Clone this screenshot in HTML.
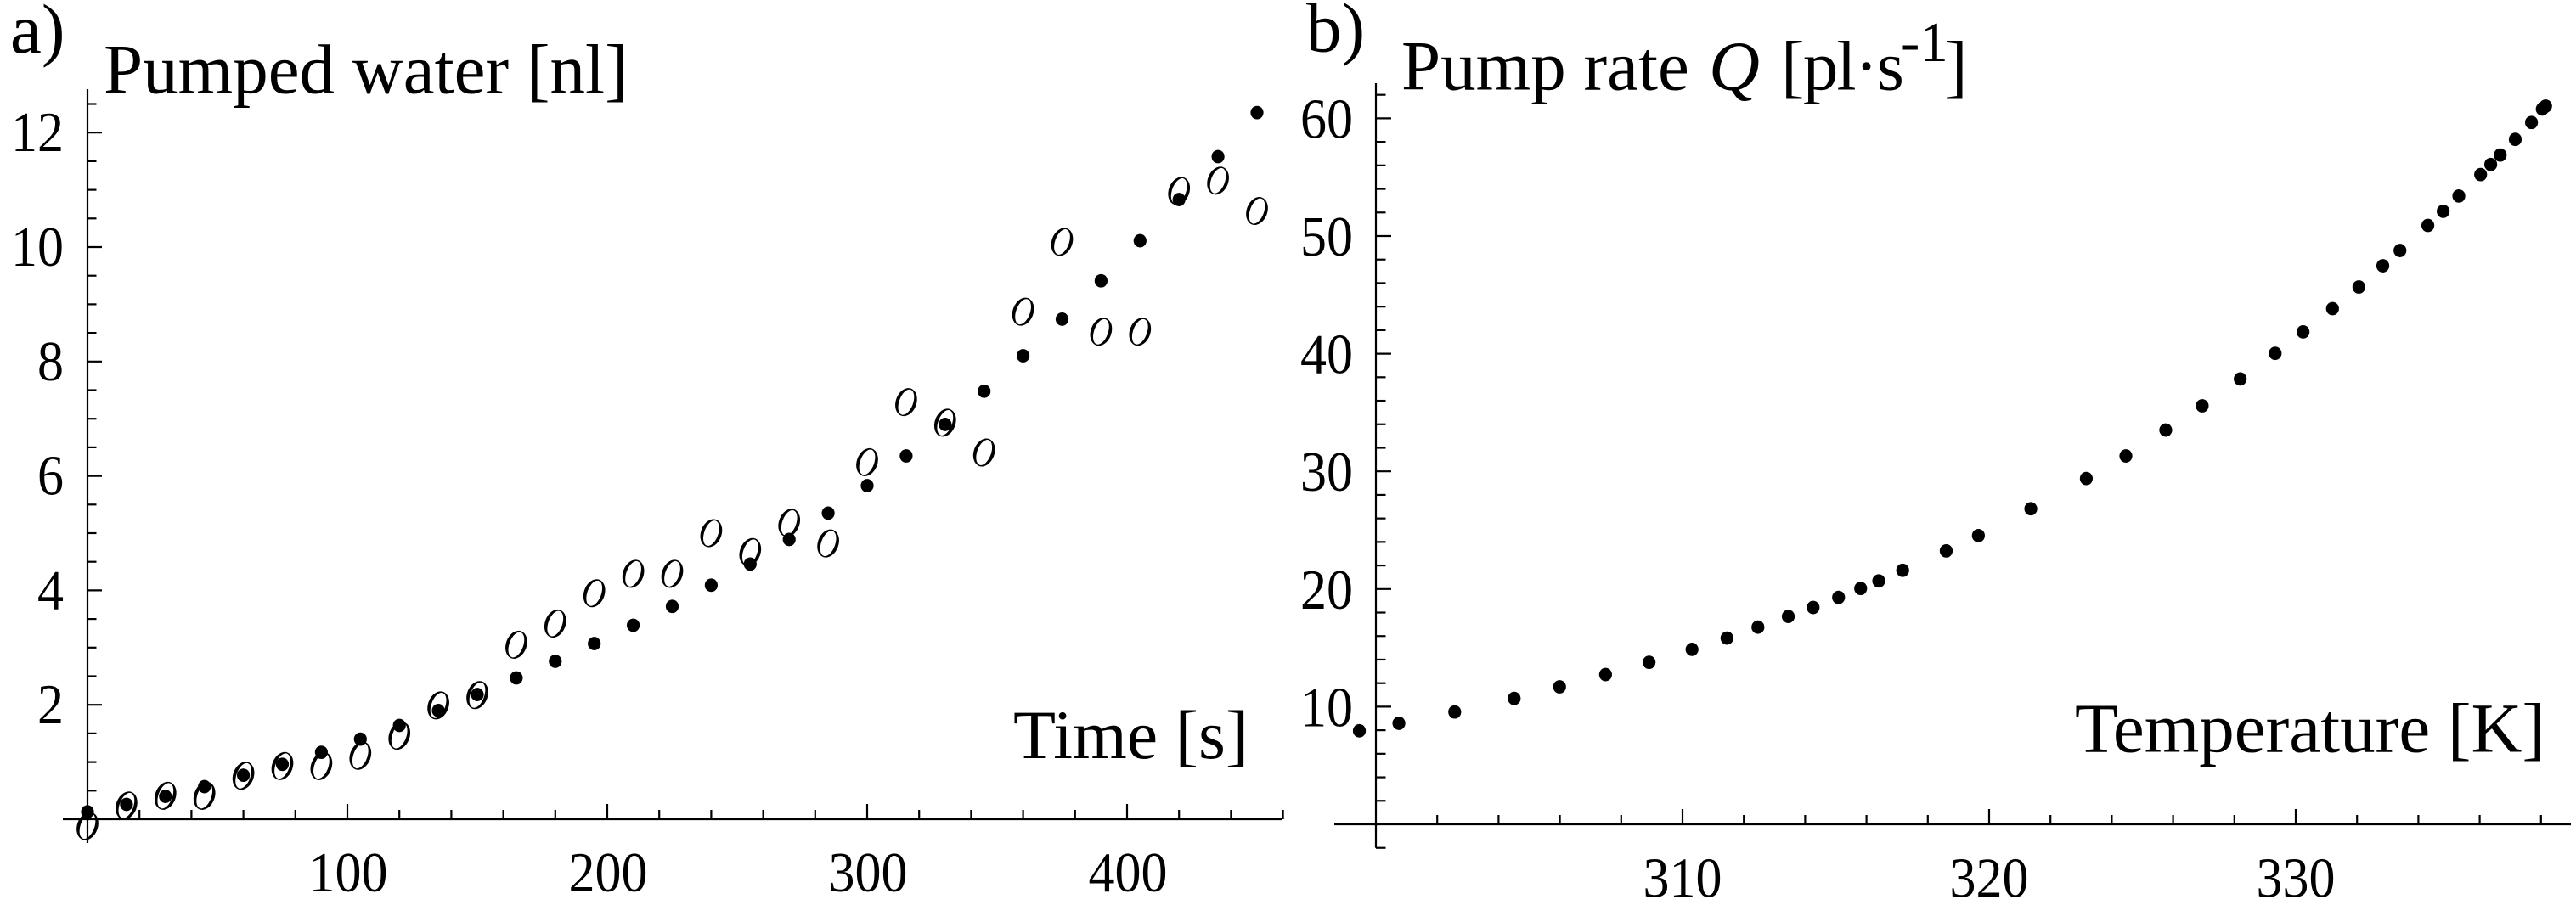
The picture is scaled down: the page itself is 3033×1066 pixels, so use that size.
<!DOCTYPE html>
<html lang="en">
<head>
<meta charset="utf-8">
<title>Pumped water and pump rate</title>
<style>
html,body{margin:0;padding:0;background:#fff;}
svg{display:block;}
text{font-family:"Liberation Serif",serif;fill:#000;}
</style>
</head>
<body>
<svg id="chart" xmlns="http://www.w3.org/2000/svg" width="3033" height="1066" viewBox="0 0 3033 1066">
  <rect width="3033" height="1066" fill="#fff"/>
  <text x="12" y="62" font-size="83">a)</text>
  <text x="122" y="109.5" font-size="83">Pumped water [nl]</text>
  <text x="1193" y="893" font-size="82">Time [s]</text>
  <text x="1538" y="60.5" font-size="83">b)</text>
  <text y="105.5" font-size="83"><tspan x="1650">Pump rate</tspan><tspan x="2012" font-style="italic">Q</tspan><tspan x="2097" letter-spacing="-1.8">[pl·s</tspan><tspan x="2238" y="72" font-size="67">-1</tspan><tspan x="2289" y="105.5">]</tspan></text>
  <text x="2443" y="885.5" font-size="83">Temperature [K]</text>
  <g id="plotA"></g>
  <g id="plotB"></g>
</svg>
<script>
const timeSeconds = [0,15,30,45,60,75,90,105,120,135,150,165,180,195,210,225,240,255,270,285,300,315,330,345,360,375,390,405,420,435,450];
const modelWater = [0.13,0.26,0.40,0.57,0.77,0.96,1.17,1.40,1.64,1.90,2.18,2.47,2.76,3.07,3.39,3.72,4.09,4.46,4.89,5.35,5.83,6.35,6.90,7.48,8.10,8.74,9.41,10.11,10.83,11.58,12.35];
const measuredWater = [-0.12,0.24,0.41,0.41,0.76,0.93,0.93,1.11,1.46,1.99,2.17,3.05,3.42,3.95,4.29,4.29,5.00,4.67,5.18,4.82,6.24,7.29,6.93,6.41,8.87,10.09,8.52,8.52,10.98,11.16,10.63];
const timeTickLabels = [100,200,300,400];
const waterTickLabels = [2,4,6,8,10,12];
const temperatureK = [299.46,300.75,302.57,304.51,305.99,307.49,308.91,310.31,311.45,312.46,313.45,314.26,315.09,315.81,316.40,317.18,318.60,319.65,321.36,323.17,324.46,325.76,326.95,328.19,329.33,330.24,331.20,332.06,332.84,333.40,334.31,334.81,335.32,336.03,336.36,336.67,337.16,337.69,338.04,338.15];
const pumpRate = [7.95,8.59,9.55,10.70,11.69,12.73,13.77,14.87,15.83,16.76,17.67,18.43,19.29,20.05,20.69,21.59,23.24,24.54,26.82,29.39,31.31,33.51,35.57,37.85,40.03,41.85,43.83,45.67,47.47,48.77,50.90,52.10,53.40,55.22,56.08,56.88,58.21,59.65,60.79,61.04];
const temperatureTickLabels = [310,320,330];
const rateTickLabels = [10,20,30,40,50,60];

const NS = 'http://www.w3.org/2000/svg';
const xA = v => 103 + 3.06 * v;
const yA = v => 965 - 67.4 * v;
const xB = v => 1981 + 36.1 * (v - 310);
const yB = v => 971 - 13.86 * v;

function make(parent, tag, attrs, content) {
  const el = document.createElementNS(NS, tag);
  for (const k in attrs) el.setAttribute(k, attrs[k]);
  if (content !== undefined) el.textContent = content;
  parent.appendChild(el);
  return el;
}
function line(parent, x1, y1, x2, y2) {
  return make(parent, 'line', {x1: x1, y1: y1, x2: x2, y2: y2, stroke: '#000', 'stroke-width': 2.2});
}
function tickText(parent, x, y, anchor, value) {
  const s = String(value);
  return make(parent, 'text', {x: x, y: y, 'font-size': 67, 'text-anchor': anchor, textLength: s.length * 31, lengthAdjust: 'spacingAndGlyphs'}, s);
}
function ringPath(cx, cy) {
  const sub = (a, b) => 'M' + (cx - a) + ',' + cy + 'a' + a + ',' + b + ' 0 1,0 ' + (2 * a) + ',0a' + a + ',' + b + ' 0 1,0 ' + (-2 * a) + ',0Z';
  return sub(12.2, 17) + sub(8.2, 15.6);
}

/* ---------- panel a ---------- */
const plotA = document.getElementById('plotA');
const axisAx = line(plotA, 74, yA(0), 1509, yA(0));


const axisAy = line(plotA, xA(0), 105, xA(0), 993);



for (let t = 20; t <= 460; t += 20) {
  const major = t % 100 === 0;
  const tick = line(plotA, xA(t), yA(0), xA(t), yA(0) - (major ? 18 : 11));
  
  
}
for (let v = 0.5; v <= 12.5; v += 0.5) {
  const major = v % 2 === 0;
  const tick = line(plotA, xA(0), yA(v), xA(0) + (major ? 17 : 10.5), yA(v));
  
  
}
timeTickLabels.forEach(v => {
  const label = tickText(plotA, xA(v) + 1, 1050, 'middle', v);
  
  
});
waterTickLabels.forEach(v => {
  const label = tickText(plotA, 75, yA(v) + 22, 'end', v);
  
  
});
timeSeconds.forEach((t, i) => {
  const cx = xA(t);
  const cy = yA(measuredWater[i]);
  const mark = make(plotA, 'path', {d: ringPath(cx, cy), 'fill-rule': 'evenodd', fill: '#000', transform: 'rotate(20 ' + cx + ' ' + cy + ')'});
  
  
});
timeSeconds.forEach((t, i) => {
  const dot = make(plotA, 'ellipse', {cx: xA(t), cy: yA(modelWater[i]), rx: 7.6, ry: 7.9, fill: '#000'});
  
  
});

/* ---------- panel b ---------- */
const plotB = document.getElementById('plotB');
const axisBx = line(plotB, 1571, yB(0), 3027, yB(0));


const axisBy = line(plotB, xB(300), 98, xB(300), yB(-2));



for (let t = 302; t <= 338; t += 2) {
  const major = t % 10 === 0;
  const tick = line(plotB, xB(t), yB(0), xB(t), yB(0) - (major ? 18 : 11));
  
  
}
for (let v = -2; v <= 62; v += 2) {
  if (v === 0) continue;
  const major = v % 10 === 0;
  const tick = line(plotB, xB(300), yB(v), xB(300) + (major ? 18 : 11.5), yB(v));
  
  
}
temperatureTickLabels.forEach(v => {
  const label = tickText(plotB, xB(v), 1056.5, 'middle', v);
  
  
});
rateTickLabels.forEach(v => {
  const label = tickText(plotB, 1593, yB(v) + 23, 'end', v);
  
  
});
temperatureK.forEach((t, i) => {
  const dot = make(plotB, 'ellipse', {cx: xB(t), cy: yB(pumpRate[i]), rx: 7.6, ry: 7.9, fill: '#000'});
  
  
});
</script>
</body>
</html>
